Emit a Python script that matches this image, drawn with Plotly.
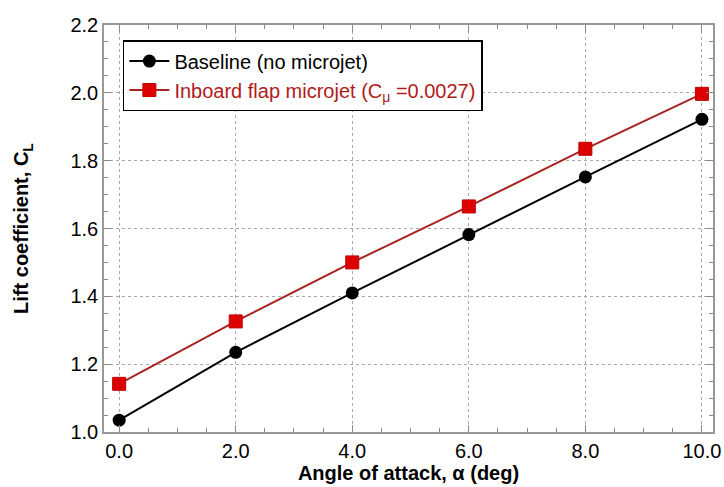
import plotly.graph_objects as go

alpha = [0, 2, 4, 6, 8, 10]
cl_baseline = [1.035, 1.235, 1.41, 1.582, 1.752, 1.922]
cl_microjet = [1.142, 1.326, 1.50, 1.665, 1.835, 1.997]
x_ticks = [0, 2, 4, 6, 8, 10]
x_tick_labels = ["0.0", "2.0", "4.0", "6.0", "8.0", "10.0"]
y_ticks = [1.0, 1.2, 1.4, 1.6, 1.8, 2.0, 2.2]
y_tick_labels = ["1.0", "1.2", "1.4", "1.6", "1.8", "2.0", "2.2"]

FONT = "Liberation Sans, Arial, Helvetica, sans-serif"

fig = go.Figure()
fig.add_trace(go.Scatter(
    x=alpha, y=cl_baseline, mode="lines+markers",
    name="Baseline (no microjet)",
    line=dict(color="black", width=2),
    marker=dict(symbol="circle", size=13, color="black"),
))
fig.add_trace(go.Scatter(
    x=alpha, y=cl_microjet, mode="lines+markers",
    name="<span style='color:#b01c1c'>Inboard flap microjet (C<sub>μ</sub> =0.0027)</span>",
    line=dict(color="#a82424", width=2),
    marker=dict(symbol="square", size=13, color="#dd0000", line=dict(color="#c00000", width=1)),
))

axis_common = dict(
    showline=True, linecolor="#999999", linewidth=1.5, mirror="ticks",
    ticks="inside", ticklen=7, tickcolor="#888888",
    showgrid=True, gridcolor="#aaaaaa", griddash="dot", gridwidth=1,
    zeroline=False, automargin=False,
    tickfont=dict(family=FONT, size=20, color="black"),
)

fig.update_xaxes(
    range=[-0.26, 10.19], tickvals=x_ticks, ticktext=x_tick_labels,
    minor=dict(dtick=0.5, ticks="inside", ticklen=4, tickcolor="#888888", showgrid=False),
    title=dict(text="<b>Angle of attack, α (deg)</b>", standoff=4,
               font=dict(family=FONT, size=20, color="black")),
    **axis_common,
)
fig.update_yaxes(
    range=[1.0, 2.2], tickvals=y_ticks, ticktext=y_tick_labels,
    minor=dict(dtick=0.05, ticks="inside", ticklen=4, tickcolor="#888888", showgrid=False),
    title=dict(text="<b>Lift coefficient, C<sub>L</sub></b>", standoff=36,
               font=dict(family=FONT, size=20, color="black")),
    **axis_common,
)

fig.update_layout(
    width=724, height=487,
    margin=dict(l=104, r=11, t=25, b=55),
    plot_bgcolor="white", paper_bgcolor="white",
    legend=dict(
        x=0.031, y=0.963, xanchor="left", yanchor="top",
        bgcolor="white", bordercolor="black", borderwidth=1.5,
        font=dict(family=FONT, size=20, color="black"),
        tracegroupgap=0, itemwidth=40,
    ),
    showlegend=True,
)

fig.write_html("out.html", config={"displayModeBar": False},
               post_script="document.body.style.margin='0';")
